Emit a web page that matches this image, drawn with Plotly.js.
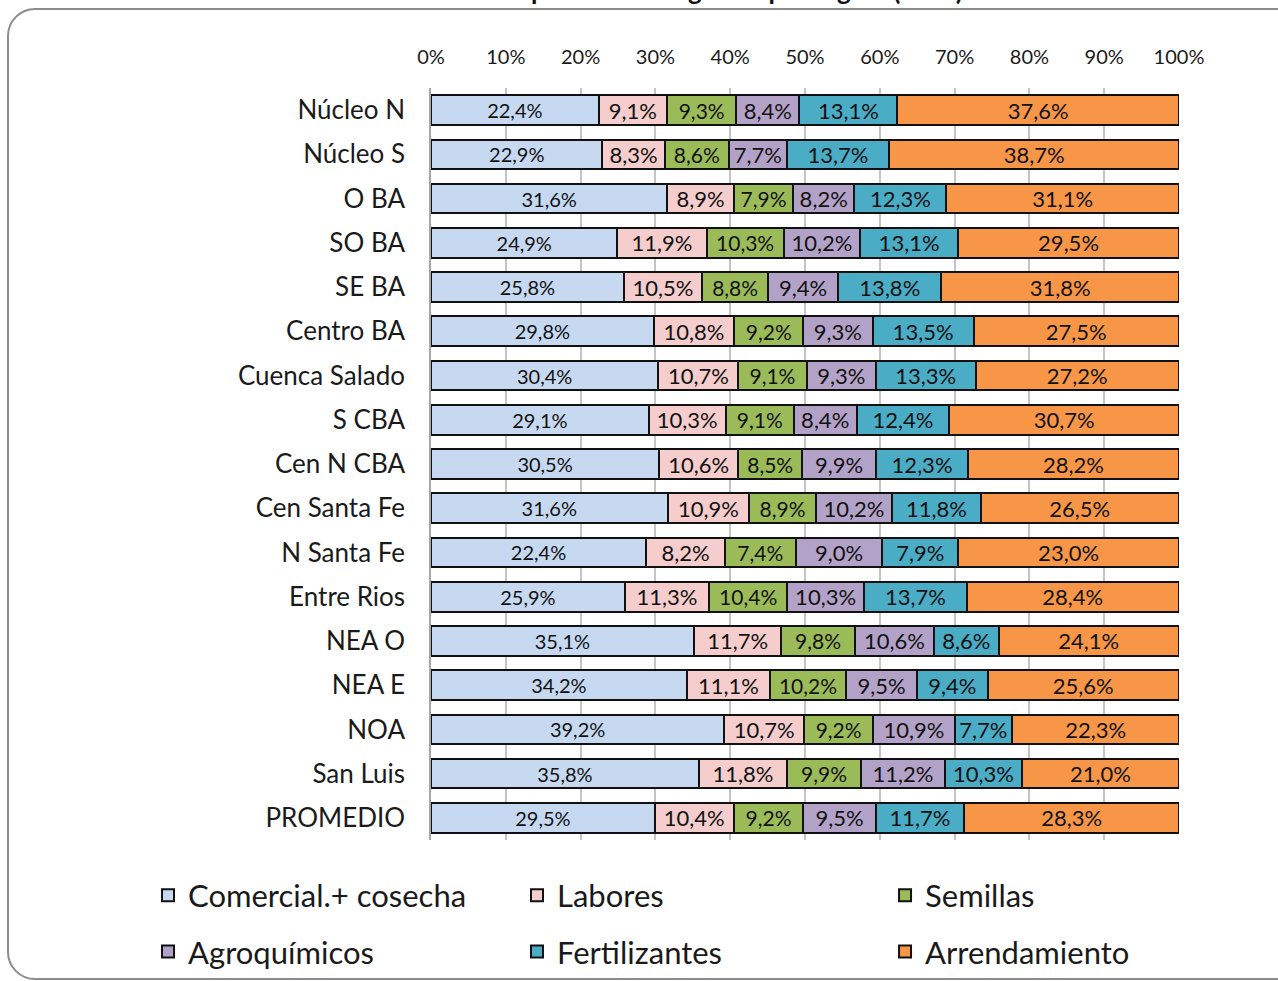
<!DOCTYPE html>
<html>
<head>
<meta charset="utf-8">
<script src="https://cdn.plot.ly/plotly-3.0.1.min.js"></script>
<style>
  body { margin: 0; background: #fff; }
  #frame {
    position: absolute; left: 7px; top: 8px; width: 1320px; height: 972px;
    border: 2px solid #8c8c8c; border-radius: 28px; box-sizing: border-box;
  }
  #chart { position: absolute; left: 0; top: 0; width: 1278px; height: 981px; }
</style>
</head>
<body>
<div id="frame"></div>
<div id="chart"></div>
<script>
var regions = ['Núcleo N', 'Núcleo S', 'O BA', 'SO BA', 'SE BA', 'Centro BA', 'Cuenca Salado',
  'S CBA', 'Cen N CBA', 'Cen Santa Fe', 'N Santa Fe', 'Entre Rios', 'NEA O', 'NEA E', 'NOA',
  'San Luis', 'PROMEDIO'];

var comercial = [22.4, 22.9, 31.6, 24.9, 25.8, 29.8, 30.4, 29.1, 30.5, 31.6, 22.4, 25.9, 35.1, 34.2, 39.2, 35.8, 29.5];
var labores = [9.1, 8.3, 8.9, 11.9, 10.5, 10.8, 10.7, 10.3, 10.6, 10.9, 8.2, 11.3, 11.7, 11.1, 10.7, 11.8, 10.4];
var semillas = [9.3, 8.6, 7.9, 10.3, 8.8, 9.2, 9.1, 9.1, 8.5, 8.9, 7.4, 10.4, 9.8, 10.2, 9.2, 9.9, 9.2];
var agroquimicos = [8.4, 7.7, 8.2, 10.2, 9.4, 9.3, 9.3, 8.4, 9.9, 10.2, 9.0, 10.3, 10.6, 9.5, 10.9, 11.2, 9.5];
var fertilizantes = [13.1, 13.7, 12.3, 13.1, 13.8, 13.5, 13.3, 12.4, 12.3, 11.8, 7.9, 13.7, 8.6, 9.4, 7.7, 10.3, 11.7];
var arrendamiento = [37.6, 38.7, 31.1, 29.5, 31.8, 27.5, 27.2, 30.7, 28.2, 26.5, 23.0, 28.4, 24.1, 25.6, 22.3, 21.0, 28.3];

var FONT = 'Lato, "Open Sans", sans-serif';

function fmt(arr) {
  return arr.map(function (v) { return v.toFixed(1).replace('.', ',') + '%'; });
}

function serie(name, vals, color, size, legend) {
  return {
    type: 'bar',
    orientation: 'h',
    name: name,
    y: regions,
    x: vals,
    text: fmt(vals),
    textposition: 'inside',
    insidetextanchor: 'middle',
    textangle: 0,
    constraintext: 'none',
    textfont: { family: FONT, size: size, color: '#111' },
    marker: { color: color, line: { color: '#111', width: 2 } },
    legend: legend,
    legendgroup: name,
    hoverinfo: 'name+text'
  };
}

var data = [
  serie('Comercial.+ cosecha', comercial, '#C6D9F1', 20, 'legend'),
  serie('Labores', labores, '#F4CDCC', 22, 'legend2'),
  serie('Semillas', semillas, '#9BBB59', 21, 'legend3'),
  serie('Agroquímicos', agroquimicos, '#B3A2C7', 22, 'legend'),
  serie('Fertilizantes', fertilizantes, '#4BACC6', 22, 'legend2'),
  serie('Arrendamiento', arrendamiento, '#F79646', 22, 'legend3')
];

function leg(x) {
  return {
    x: x, xanchor: 'left', y: -0.038, yanchor: 'top',
    orientation: 'v', tracegroupgap: 13,
    font: { family: FONT, size: 31, color: '#1a1a1a' },
    bgcolor: 'rgba(0,0,0,0)'
  };
}

var layout = {
  width: 1278,
  height: 981,
  margin: { l: 431, r: 99, t: 88, b: 141, autoexpand: false },
  paper_bgcolor: 'rgba(0,0,0,0)',
  plot_bgcolor: 'rgba(0,0,0,0)',
  barmode: 'stack',
  barnorm: 'percent',
  bargap: 0.33,
  font: { family: FONT, color: '#1a1a1a' },
  xaxis: {
    side: 'top',
    range: [0, 100],
    dtick: 10,
    ticksuffix: '%',
    showgrid: true,
    gridcolor: '#c4c4c4',
    gridwidth: 1.5,
    zeroline: false,
    ticks: '',
    ticklabelstandoff: 19,
    tickfont: { family: FONT, size: 20, color: '#1a1a1a' },
    fixedrange: true
  },
  yaxis: {
    autorange: 'reversed',
    showline: true,
    linecolor: '#a6a6a6',
    linewidth: 1.5,
    ticks: '',
    ticklabelstandoff: 19,
    tickfont: { family: FONT, size: 26, color: '#1a1a1a' },
    fixedrange: true
  },
  legend: leg(-0.3783),
  legend2: leg(0.115),
  legend3: leg(0.607),
  annotations: [{
    text: '<b>Gráfico 5: Participación de los gastos por región (en %)</b>',
    xref: 'paper', yref: 'paper', x: 0.293, xanchor: 'center', y: 1.13, yanchor: 'middle',
    showarrow: false, font: { family: FONT, size: 26, color: '#111' }
  }]
};

Plotly.newPlot('chart', data, layout, { displayModeBar: false });
</script>
</body>
</html>
